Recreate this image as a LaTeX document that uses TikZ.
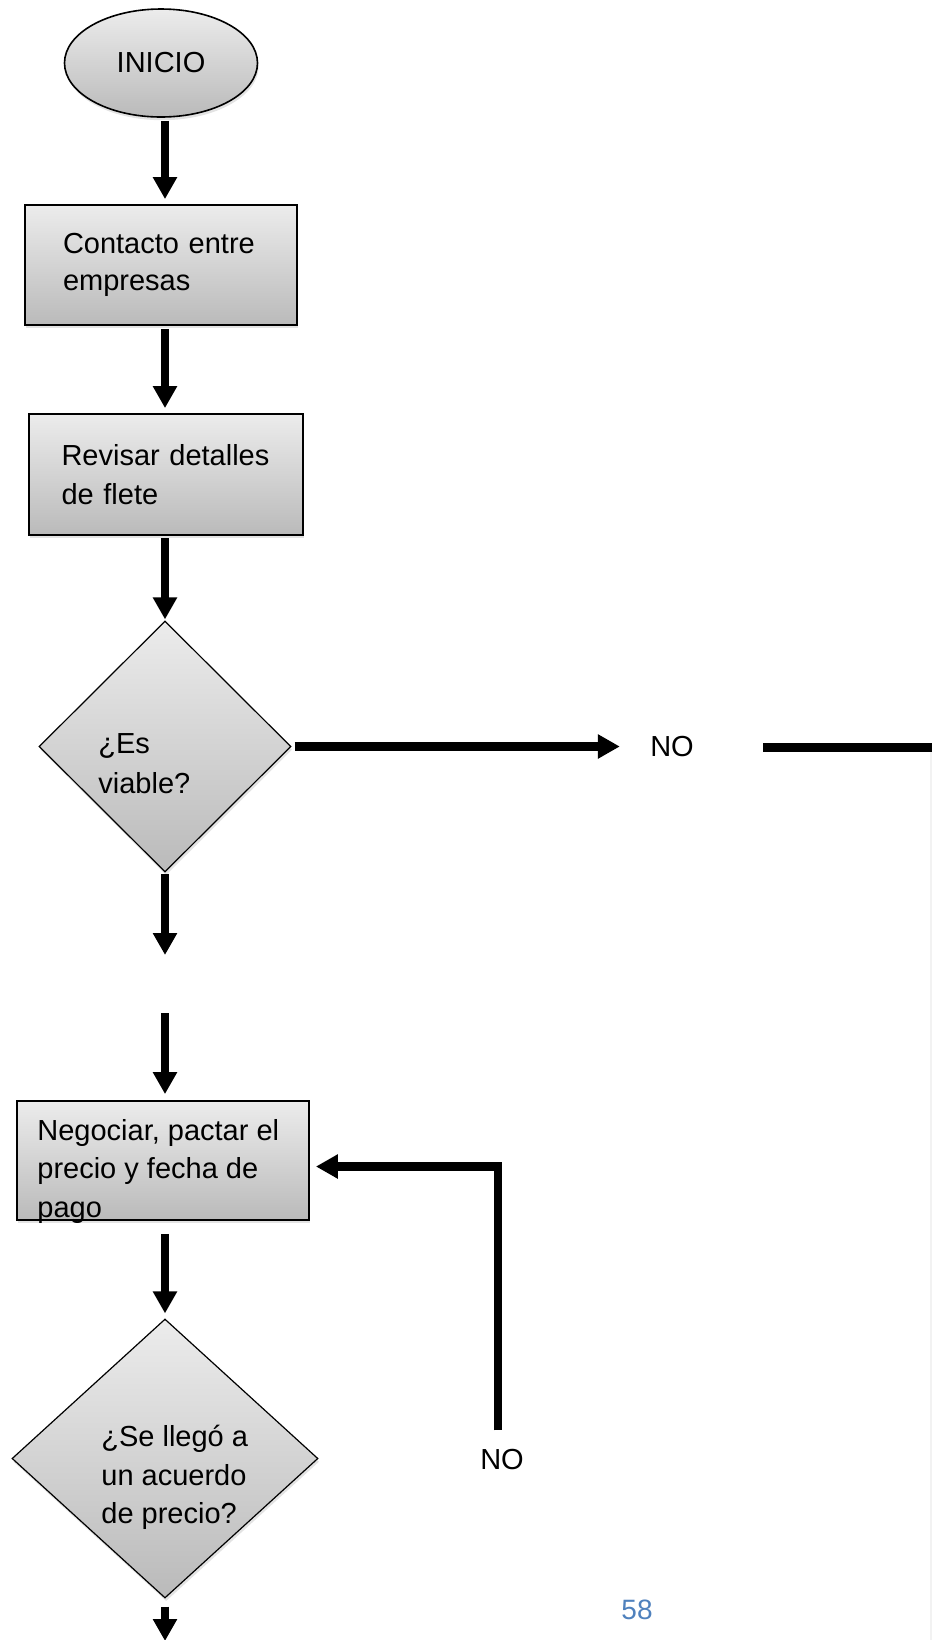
\documentclass[tikz,border=0pt]{standalone}
\usepackage{fontspec}
\setmainfont{Liberation Sans}
\usetikzlibrary{arrows.meta, shapes.geometric, shadows}
\definecolor{shadetop}{RGB}{236,236,236}
\definecolor{shadebot}{RGB}{186,186,186}
\definecolor{pagenum}{RGB}{79,129,189}
\tikzset{
  flow/.style = {line width = 4.4pt, -{Triangle[width = 11.5pt, length = 11pt]}},
  bar/.style = {line width = 4.4pt},
  greyshade/.style = {top color = shadetop, bottom color = shadebot,
    drop shadow = {opacity = 0.22, shadow xshift = 0.6pt, shadow yshift = -1.6pt}},
  startend/.style = {ellipse, draw, line width = 0.8pt, greyshade, inner sep = 0pt,
    minimum width = 96.5pt, minimum height = 54pt, font = \fontsize{14.5}{18}\selectfont},
  procbox/.style = {rectangle, draw, line width = 0.9pt, greyshade, align = left,
    font = \fontsize{14.5}{18.5}\selectfont},
  decision/.style = {diamond, draw, line width = 0.6pt, greyshade, inner sep = 0pt},
  txt/.style = {align = left, inner sep = 0pt, font = \fontsize{14.5}{19.25}\selectfont},
  lbl/.style = {inner sep = 0pt, font = \fontsize{14.5}{18}\selectfont}
}
\begin{document}
\begin{tikzpicture}[x = 0.5pt, y = -0.5pt]
  \useasboundingbox (0, 0) rectangle (932, 1640);
  % draw the shapes of the main column
  \node[startend] (inicio) at (161, 63) {INICIO};
  \node[procbox, minimum height = 60pt, text width = 98pt, inner xsep = 19pt]
  (contacto) at (161, 265) {Contacto entre\\empresas};
  \node[procbox, minimum height = 60.5pt, text width = 104.5pt, inner xsep = 16.25pt,
  font = \fontsize{14.5}{19.5}\selectfont] (revisar) at (166, 474.5)
  {Revisar detalles\\de flete};
  \node[decision, minimum width = 126pt, minimum height = 125.5pt] (viable)
  at (165, 746.5) {};
  \node[txt, anchor = north west, font = \fontsize{14.5}{20}\selectfont]
  (viable-txt) at (98, 733) {¿Es\\viable?};
  \node[procbox, minimum width = 146pt, minimum height = 59.5pt] (negociar)
  at (163, 1160.5) {};
  \node[txt, anchor = north west] (negociar-txt) at (37, 1119)
  {Negociar, pactar el\\precio y fecha de\\pago};
  \node[decision, minimum width = 153pt, minimum height = 139.5pt] (acuerdo)
  at (165, 1458.5) {};
  \node[txt, anchor = north west] (acuerdo-txt) at (101, 1425)
  {¿Se llegó a\\un acuerdo\\de precio?};
  % labels
  \node[lbl] (no1) at (672, 747) {NO};
  \node[lbl] (no2) at (502, 1459) {NO};
  \node[lbl, text = pagenum, font = \fontsize{14}{16}\selectfont] (pagina)
  at (637, 1610) {58};
  % free ends
  \coordinate (gap-top) at (165, 955);
  \coordinate (gap-bot) at (165, 1013);
  \coordinate (fin) at (165, 1641);
  \coordinate (borde) at (940, 747.5);
  \coordinate (esquina) at (931, 752);
  \coordinate (pie) at (931, 1640);
  % draw the arrows down the column
  \draw[flow, shorten < = 1.5pt, shorten > = 2.5pt] (inicio.south -| viable)
  -- (contacto.north -| viable);
  \draw[flow, shorten < = 1.5pt, shorten > = 2.5pt] (contacto.south -| viable)
  -- (revisar.north -| viable);
  \draw[flow, shorten < = 1.25pt, shorten > = 0.5pt] (revisar.south -| viable)
  -- (viable.north);
  \draw[flow, shorten < = 0.5pt] (viable.south) -- (gap-top);
  \draw[flow, shorten > = 3pt] (gap-bot) -- (negociar.north -| viable);
  \draw[flow, shorten < = 6.5pt, shorten > = 2.5pt] (negociar.south -| viable)
  -- (acuerdo.north);
  \draw[flow, shorten < = 4pt] (acuerdo.south) -- (fin);
  % draw the NO branches
  \draw[flow, shorten < = 1.5pt, shorten > = 15pt] (viable.east)
  -- (viable.east -| no1.west);
  \draw[bar, shorten < = 34.5pt] (no1.east |- borde) -- (borde);
  \draw[gray!10, line width = 1pt] (esquina) -- (pie);
  \draw[flow, shorten < = 9pt, shorten > = 3pt] ([xshift = -2pt]no2.north)
  |- ([yshift = -3pt]negociar.east);
\end{tikzpicture}
\end{document}
